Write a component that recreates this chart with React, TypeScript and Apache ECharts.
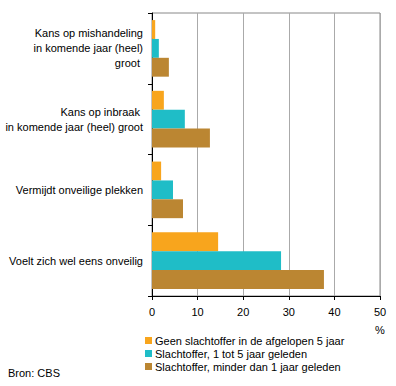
import React, { useEffect, useRef } from "react";
import * as echarts from "echarts";

const categories = [
  "Kans op mishandeling\nin komende jaar (heel)\ngroot ",
  "Kans op inbraak \nin komende jaar (heel) groot",
  "Vermijdt onveilige plekken",
  "Voelt zich wel eens onveilig",
];
const seriesNames = [
  "Geen slachtoffer in de afgelopen 5 jaar",
  "Slachtoffer, 1 tot 5 jaar geleden",
  "Slachtoffer, minder dan 1 jaar geleden",
];
const geen = [0.7, 2.6, 2.0, 14.5];
const eenTotVijf = [1.5, 7.2, 4.6, 28.3];
const minderDanEen = [3.7, 12.7, 6.8, 37.7];
const xTicks = [0, 10, 20, 30, 40, 50];
const colors = ["#F8A51D", "#1FBDC7", "#BB8632"];

export default function App() {
  const ref = useRef<HTMLDivElement>(null);
  useEffect(() => {
    const chart = echarts.init(ref.current!, null, { renderer: "svg" });
    const font = "Liberation Sans, Arial, sans-serif";
    const data = [geen, eenTotVijf, minderDanEen];
    chart.setOption({
      animation: false,
      textStyle: { fontFamily: font, fontSize: 11, color: "#000" },
      grid: {
        left: 152,
        right: 16,
        top: 13,
        bottom: 90,
        show: true,
        borderColor: "#888",
        borderWidth: 1,
        containLabel: false,
      },
      xAxis: {
        type: "value",
        min: xTicks[0],
        max: xTicks[xTicks.length - 1],
        interval: 10,
        axisLine: { show: true, lineStyle: { color: "#000", width: 1 } },
        axisTick: { show: true, length: 4, lineStyle: { color: "#000" } },
        axisLabel: { color: "#000", fontSize: 11, fontFamily: font, margin: 10 },
        splitLine: { show: true, lineStyle: { color: "#aaa", width: 1 } },
      },
      yAxis: {
        type: "category",
        data: categories,
        inverse: true,
        axisLine: { show: true, lineStyle: { color: "#000", width: 1 } },
        axisTick: { show: true, length: 4, lineStyle: { color: "#000" } },
        axisLabel: {
          color: "#000",
          fontSize: 11,
          fontFamily: font,
          lineHeight: 15,
          align: "right",
          margin: 9,
        },
      },
      legend: {
        orient: "vertical",
        left: 145,
        top: 334,
        height: 60,
        padding: 0,
        itemWidth: 7,
        itemHeight: 7,
        itemGap: 0,
        icon: "rect",
        textStyle: { color: "#000", fontSize: 11, fontFamily: font, lineHeight: 13, padding: [0, 0, 0, -2] },
        data: seriesNames,
      },
      graphic: [
        { type: "text", left: 375, top: 324, style: { text: "%", fontSize: 11, fontFamily: font, fill: "#000" } },
        { type: "text", left: 8, top: 367, style: { text: "Bron: CBS", fontSize: 11, fontFamily: font, fill: "#000" } },
      ],
      series: seriesNames.map((name, i) => ({
        name,
        type: "bar",
        data: data[i],
        barGap: "0%",
        barCategoryGap: "20%",
        itemStyle: { color: colors[i] },
      })),
    });
    return () => chart.dispose();
  }, []);
  return <div ref={ref} style={{ width: 396, height: 386, position: "absolute", left: 0, top: 0 }} />;
}
